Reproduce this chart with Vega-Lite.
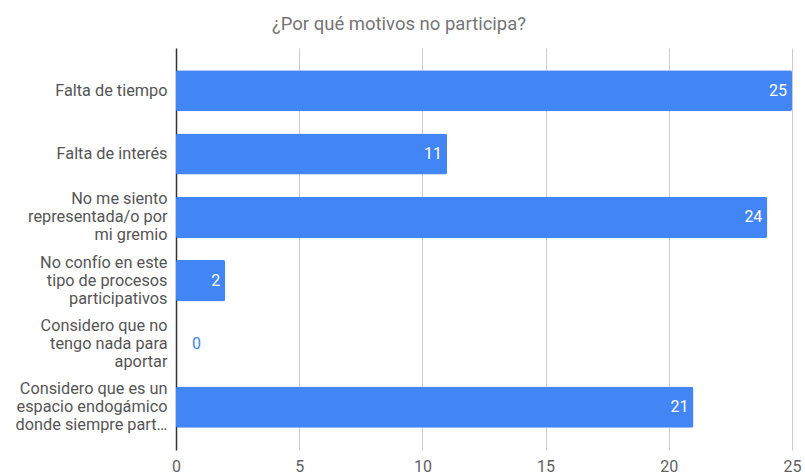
{
  "$schema": "https://vega.github.io/schema/vega-lite/v6.json",
  "width": 616,
  "height": 402,
  "autosize": {"type": "none"},
  "padding": {"left": 176, "top": 48, "right": 13, "bottom": 26},
  "background": "white",
  "title": {
    "text": "¿Por qué motivos no participa?",
    "font": "Roboto",
    "fontSize": 18.5,
    "fontWeight": "normal",
    "color": "#757575",
    "anchor": "middle",
    "dx": -85,
    "offset": 15
  },
  "config": {"view": {"stroke": null}},
  "data": {
    "values": [
      {"motivo": "Falta de tiempo", "n": 25},
      {"motivo": "Falta de interés", "n": 11},
      {"motivo": "No me siento|representada/o por|mi gremio", "n": 24},
      {"motivo": "No confío en este|tipo de procesos|participativos", "n": 2},
      {"motivo": "Considero que no|tengo nada para|aportar", "n": 0},
      {"motivo": "Considero que es un|espacio endogámico|donde siempre part…", "n": 21}
    ]
  },
  "encoding": {
    "y": {
      "field": "motivo",
      "type": "nominal",
      "sort": null,
      "title": null,
      "scale": {"paddingInner": 0.35, "paddingOuter": 0.35},
      "axis": {
        "labelExpr": "split(datum.label, '|')",
        "labelFont": "Roboto",
        "labelFontSize": 16.3,
        "labelColor": "#555555",
        "labelLineHeight": 18,
        "labelOffset": {"condition": {"test": "indexof(datum.label, '|') >= 0", "value": -18}, "value": 0},
        "labelPadding": 9,
        "labelLimit": 200,
        "ticks": false,
        "domain": true,
        "domainColor": "#333333",
        "domainWidth": 1.5,
        "grid": false
      }
    },
    "x": {
      "field": "n",
      "type": "quantitative",
      "title": null,
      "scale": {"domain": [0, 25], "nice": false},
      "axis": {
        "values": [0, 5, 10, 15, 20, 25],
        "labelFont": "Roboto",
        "labelFontSize": 16,
        "labelColor": "#616161",
        "labelPadding": 8,
        "ticks": false,
        "domain": false,
        "grid": true,
        "gridColor": "#cccccc",
        "labelFlush": false
      }
    }
  },
  "layer": [
    {"mark": {"type": "bar", "color": "#4285F4", "cornerRadius": 2}},
    {
      "transform": [{"filter": "datum.n > 0"}],
      "mark": {"type": "text", "align": "right", "dx": -5, "font": "Roboto", "fontSize": 16, "color": "white"},
      "encoding": {"text": {"field": "n", "type": "quantitative"}}
    },
    {
      "transform": [{"filter": "datum.n == 0"}],
      "mark": {"type": "text", "align": "left", "dx": 16, "font": "Roboto", "fontSize": 16, "color": "#4285F4"},
      "encoding": {"text": {"field": "n", "type": "quantitative"}}
    }
  ]
}
